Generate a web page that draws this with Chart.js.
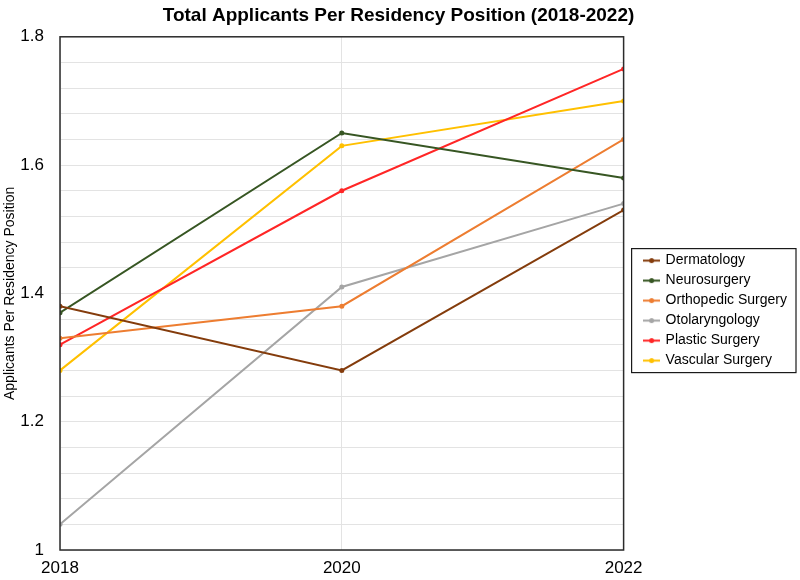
<!DOCTYPE html>
<html>
<head>
<meta charset="utf-8">
<script src="https://cdn.jsdelivr.net/npm/chart.js@4"></script>
<style>
  html, body { margin: 0; padding: 0; background: #ffffff; }
  #wrap { width: 800px; height: 580px; }
</style>
</head>
<body>
<div id="wrap"><canvas id="residencyChart" width="800" height="580"></canvas></div>
<script>
const years = [2018, 2020, 2022];
const specialties = [
  "Dermatology",
  "Neurosurgery",
  "Orthopedic Surgery",
  "Otolaryngology",
  "Plastic Surgery",
  "Vascular Surgery",
];
const dermatology = [1.38, 1.28, 1.53];
const neurosurgery = [1.37, 1.65, 1.58];
const orthopedic = [1.33, 1.38, 1.64];
const otolaryngology = [1.04, 1.41, 1.54];
const plastic = [1.32, 1.56, 1.75];
const vascular = [1.28, 1.63, 1.70];
const yTicks = [1, 1.2, 1.4, 1.6, 1.8];

const seriesValues = [dermatology, neurosurgery, orthopedic, otolaryngology, plastic, vascular];
const colors = ["#843c0c", "#375623", "#ed7d31", "#a5a5a5", "#ff2626", "#ffc000"];

const fontFamily = "'Liberation Sans', Arial, sans-serif";
const legendGapPx = 15;

const legendMarker = (color) => {
  const c = document.createElement("canvas");
  c.width = 17;
  c.height = 7;
  const ctx = c.getContext("2d");
  ctx.strokeStyle = color;
  ctx.lineWidth = 2;
  ctx.beginPath();
  ctx.moveTo(0, 3.5);
  ctx.lineTo(17, 3.5);
  ctx.stroke();
  ctx.fillStyle = color;
  ctx.beginPath();
  ctx.arc(8.5, 3.5, 2.5, 0, Math.PI * 2);
  ctx.fill();
  return c;
};

// leave some room between the plot frame and the legend box
const legendGap = {
  id: "legendGap",
  beforeLayout(chart) {
    const legend = chart.legend;
    if (!legend || legend._gapPatched) {
      return;
    }
    const fit = legend.fit;
    legend.fit = function () {
      fit.call(this);
      this.width += legendGapPx;
    };
    legend._gapPatched = true;
  },
  afterLayout(chart) {
    const legend = chart.legend;
    if (legend) {
      legend.left += legendGapPx;
      legend.width -= legendGapPx;
    }
  },
};

const frame = {
  id: "frame",
  afterDraw(chart) {
    const { ctx, chartArea } = chart;
    ctx.save();
    ctx.strokeStyle = "#2b2b2b";
    ctx.lineWidth = 1.5;
    ctx.strokeRect(chartArea.left, chartArea.top, chartArea.right - chartArea.left, chartArea.bottom - chartArea.top);

    const boxes = chart.legend?.legendHitBoxes || [];
    if (boxes.length) {
      const minX = Math.min(...boxes.map((b) => b.left));
      const maxX = Math.max(...boxes.map((b) => b.left + b.width));
      const minY = Math.min(...boxes.map((b) => b.top));
      const maxY = Math.max(...boxes.map((b) => b.top + b.height));
      ctx.lineWidth = 1.2;
      ctx.strokeStyle = "#1a1a1a";
      ctx.strokeRect(minX - 13, minY - 5, maxX - minX + 22, maxY - minY + 10);
    }
    ctx.restore();
  },
};

new Chart(document.getElementById("residencyChart"), {
  data: {
    datasets: specialties.map((name, i) => ({
      backgroundColor: colors[i],
      borderColor: colors[i],
      borderWidth: 2,
      data: years.map((year, j) => ({ x: year, y: seriesValues[i][j] })),
      label: name,
      pointBorderWidth: 0,
      pointRadius: 2.5,
      tension: 0,
    })),
  },
  options: {
    animation: false,
    layout: {
      padding: { left: 0, right: 3, top: 0, bottom: 0 },
    },
    maintainAspectRatio: false,
    plugins: {
      legend: {
        align: "center",
        labels: {
          boxHeight: 7,
          boxWidth: 17,
          color: "#000000",
          font: { family: fontFamily, size: 14 },
          generateLabels: (chart) =>
            Chart.defaults.plugins.legend.labels.generateLabels(chart).map((item, i) => ({
              ...item,
              pointStyle: legendMarker(colors[i]),
            })),
          padding: 6,
          usePointStyle: true,
        },
        position: "right",
        title: {
          display: true,
          font: { size: 1 },
          padding: { top: 40, bottom: 0 },
          text: "",
        },
      },
      title: {
        color: "#000000",
        display: true,
        font: { family: fontFamily, size: 19, weight: "bold" },
        padding: { top: 4, bottom: 10 },
        text: "Total Applicants Per Residency Position (2018-2022)",
      },
      tooltip: { enabled: false },
    },
    responsive: false,
    scales: {
      x: {
        afterFit: (scale) => {
          scale.height = 30;
        },
        border: { display: false },
        grid: { color: "#e3e3e3", drawTicks: false },
        max: 2022,
        min: 2018,
        ticks: {
          color: "#000000",
          font: { family: fontFamily, size: 17 },
          padding: 8,
          stepSize: 2,
          callback: (value) => String(value),
        },
        type: "linear",
      },
      y: {
        afterFit: (scale) => {
          scale.width = 60;
        },
        border: { display: false },
        grid: { color: "#e3e3e3", drawTicks: false },
        max: 1.8,
        min: 1,
        ticks: {
          autoSkip: false,
          color: "#000000",
          font: { family: fontFamily, size: 17 },
          padding: 16,
          stepSize: 0.04,
          callback: (value) => {
            const hit = yTicks.find((t) => Math.abs(t - value) < 1e-6);
            return hit === undefined ? "" : String(hit);
          },
        },
        title: {
          color: "#000000",
          display: true,
          font: { family: fontFamily, size: 14 },
          padding: { top: 2, bottom: 0 },
          text: "Applicants Per Residency Position",
        },
      },
    },
  },
  plugins: [legendGap, frame],
  type: "line",
});
</script>
</body>
</html>
